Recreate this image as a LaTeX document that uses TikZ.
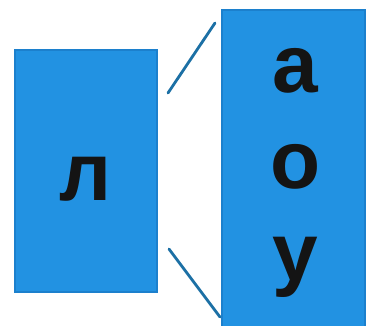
\documentclass[tikz,border=0pt]{standalone}
\usepackage{fontspec}
\setmainfont{Liberation Sans}
\definecolor{cardblue}{RGB}{34,146,226}
\definecolor{cardedge}{RGB}{28,128,205}
\definecolor{linkblue}{RGB}{28,112,165}
\begin{document}
\begin{tikzpicture}[x=1pt,y=1pt,
  card/.style={draw=cardedge, line width=1.5pt, fill=cardblue, inner sep=0pt, outer sep=0pt},
  letter/.style={font=\fontsize{82}{82}\selectfont\bfseries, text=black!92, anchor=base, inner sep=0pt},
  link/.style={draw=linkblue, line width=2.8pt, line cap=round}]
\useasboundingbox (0,0) rectangle (370,325);
\node[card, minimum width=142pt, minimum height=242pt] (left) at (86,154) {};
\node[card, minimum width=143pt, minimum height=320pt] (right) at (293.5,155) {};
\node[letter] (l) at (86,125) {л};
\node[letter] (a) at (295,233) {а};
\node[letter] (o) at (296,137) {о};
\node[letter] (u) at (295,45) {у};
\coordinate (t1) at (168,232);
\coordinate (t2) at (215,302);
\coordinate (b1) at (169,76);
\coordinate (b2) at (220,8);
\draw[link] (t1) -- (t2);
\draw[link] (b1) -- (b2);
\end{tikzpicture}
\end{document}
